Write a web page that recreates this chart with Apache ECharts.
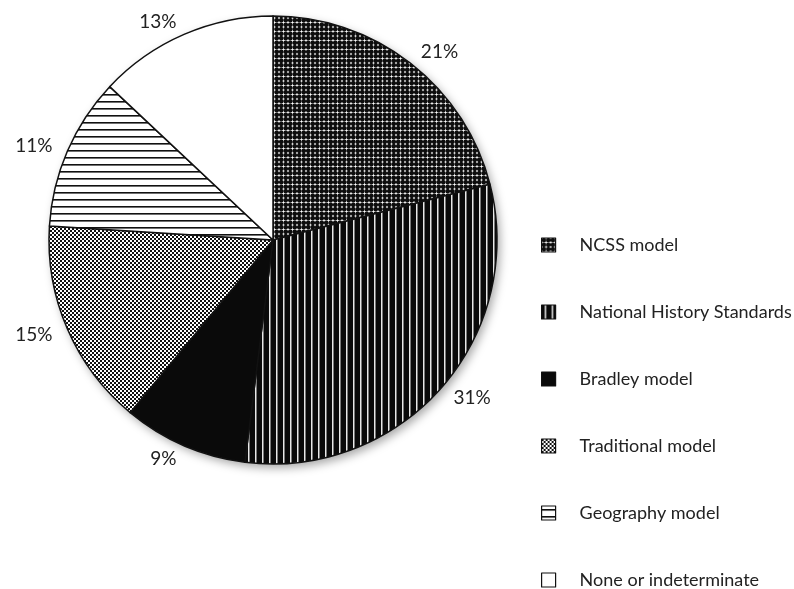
<!DOCTYPE html>
<html><head><meta charset="utf-8">
<script src="https://cdn.jsdelivr.net/npm/echarts@6/dist/echarts.min.js"></script>
<style>html,body{margin:0;padding:0;background:#fff}#c{width:794px;height:589px}</style>
</head><body><div id="c"></div>
<script>
const categories = ['NCSS model','National History Standards','Bradley model','Traditional model','Geography model','None or indeterminate'];
const values = [21, 31, 9, 15, 11, 13];

function tile(w, h, draw) {
  const c = document.createElement('canvas');
  c.width = w; c.height = h;
  const g = c.getContext('2d');
  draw(g, w, h);
  return { image: c, repeat: 'repeat' };
}
const patNCSS = tile(9, 9, (g) => {
  g.fillStyle = '#fff'; g.fillRect(0, 0, 9, 9);
  g.fillStyle = '#0d0d0d';
  [[2.25,2.25],[6.75,2.25],[2.25,6.75],[6.75,6.75]].forEach(([x,y]) => {
    g.beginPath(); g.arc(x, y, 2.35, 0, Math.PI*2); g.fill();
  });
});
const patNHS = tile(7, 4, (g) => {
  g.fillStyle = '#0a0a0a'; g.fillRect(0, 0, 7, 4);
  g.fillStyle = '#e8e8e8'; g.fillRect(3, 0, 1.5, 4);
});
const patTrad = tile(4, 4, (g) => {
  g.fillStyle = '#fff'; g.fillRect(0, 0, 4, 4);
  g.fillStyle = '#111'; g.fillRect(0, 0, 2, 2); g.fillRect(2, 2, 2, 2);
});
const patGeo = tile(4, 7, (g) => {
  g.fillStyle = '#fff'; g.fillRect(0, 0, 4, 7);
  g.fillStyle = '#111'; g.fillRect(0, 3, 4, 1.6);
});
const fills = [patNCSS, patNHS, '#0a0a0a', patTrad, patGeo, '#ffffff'];

const chart = echarts.init(document.getElementById('c'), null, { renderer: 'canvas' });
chart.setOption({
  animation: false,
  backgroundColor: '#fff',
  legend: {
    data: categories,
    orient: 'vertical',
    left: 541, top: 236, padding: 0, height: 360,
    itemWidth: 14, itemHeight: 14, itemGap: 49,
    icon: 'rect',
    textStyle: { fontFamily: 'Lato', fontSize: 18, color: '#222', padding: [0, 0, 0, 19] },
    itemStyle: { borderColor: '#111', borderWidth: 1.2 },
    selectedMode: false
  },
  series: [
    {
      type: 'pie', radius: 224, center: [273, 240], silent: true,
      data: [{ value: 1, name: '__bg' }],
      itemStyle: { color: '#fff', shadowBlur: 10, shadowColor: 'rgba(0,0,0,0.35)', shadowOffsetX: 3, shadowOffsetY: 4 },
      label: { show: false }, labelLine: { show: false }
    },
    {
      type: 'pie', radius: 224, center: [273, 240], startAngle: 90, clockwise: true,
      data: categories.map((n, i) => ({ name: n, value: values[i], itemStyle: { color: fills[i] } })),
      itemStyle: { borderColor: '#111', borderWidth: 1.5 },
      label: {
        show: true, position: 'outside', formatter: '{c}%',
        fontFamily: 'Lato', fontSize: 19, color: '#222', distanceToLabelLine: 2
      },
      labelLine: { show: false, length: 14, length2: 0 },
      emphasis: { disabled: true }
    }
  ]
});
</script></body></html>
